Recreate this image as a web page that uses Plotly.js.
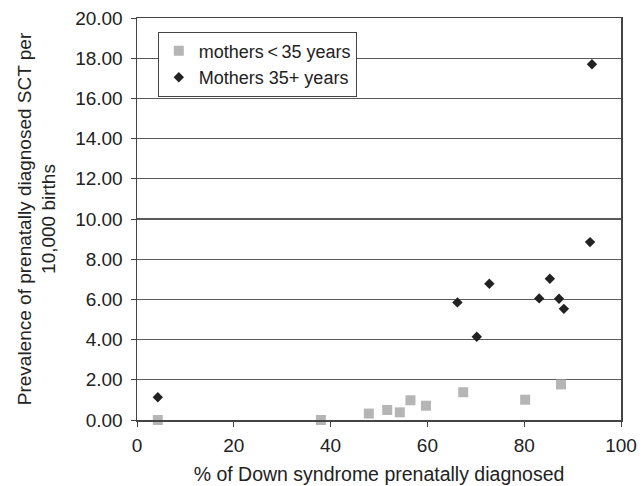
<!DOCTYPE html>
<html><head><meta charset="utf-8">
<script src="https://cdn.plot.ly/plotly-3.0.1.min.js"></script>
<style>html,body{margin:0;padding:0;background:#fff}</style>
</head><body>
<div id="chart" style="width:644px;height:486px"></div>
<script>
var youngX = [4.3, 38.0, 47.9, 51.7, 54.3, 56.5, 59.7, 67.4, 80.2, 87.6];
var youngY = [0.00, 0.00, 0.32, 0.50, 0.38, 0.98, 0.71, 1.38, 1.01, 1.77];
var oldX = [4.3, 66.2, 70.2, 72.8, 83.1, 85.3, 87.2, 88.2, 93.6, 94.0];
var oldY = [1.13, 5.85, 4.14, 6.78, 6.05, 7.03, 6.03, 5.53, 8.85, 17.70];
var seriesNames = ['mothers\u2009<\u200935 years', 'Mothers 35+ years'];

var traces = [
  {x: youngX, y: youngY, type: 'scatter', mode: 'markers', name: seriesNames[0],
   marker: {symbol: 'square', size: 10, color: '#b5b5b5'}, cliponaxis: false},
  {x: oldX, y: oldY, type: 'scatter', mode: 'markers', name: seriesNames[1],
   marker: {symbol: 'diamond', size: 8, color: '#222222'}, cliponaxis: false}
];

var layout = {
  width: 644, height: 486,
  margin: {l: 137, r: 23, t: 18, b: 66},
  paper_bgcolor: '#ffffff', plot_bgcolor: '#ffffff',
  font: {family: 'Liberation Sans, Arial, sans-serif', size: 19, color: '#222'},
  showlegend: true,
  legend: {x: 0.043, y: 0.966, xanchor: 'left', yanchor: 'top',
    bordercolor: '#444', borderwidth: 1, bgcolor: '#fff',
    font: {size: 18, color: '#222'}, tracegroupgap: 0},
  xaxis: {range: [0, 100], dtick: 20, showgrid: false, zeroline: false,
    showline: true, linecolor: '#444', linewidth: 1.5, mirror: true,
    ticks: 'outside', ticklen: 5, tickcolor: '#444', ticklabelstandoff: 3,
    tickfont: {size: 19},
    title: {text: '% of Down syndrome prenatally diagnosed', font: {size: 19.5}, standoff: 12}},
  yaxis: {range: [0, 20], dtick: 2, tickformat: '.2f', showgrid: true,
    gridcolor: '#5a5a5a', gridwidth: 1.2, zeroline: false,
    showline: true, linecolor: '#444', linewidth: 1.5, mirror: true,
    ticks: 'outside', ticklen: 5, tickcolor: '#444', ticklabelstandoff: 4,
    tickfont: {size: 19},
    title: {text: 'Prevalence of prenatally diagnosed SCT per<br>10,000 births', font: {size: 19}, standoff: 14}}
};
Plotly.newPlot('chart', traces, layout, {displayModeBar: false, staticPlot: true});
</script>
</body></html>
